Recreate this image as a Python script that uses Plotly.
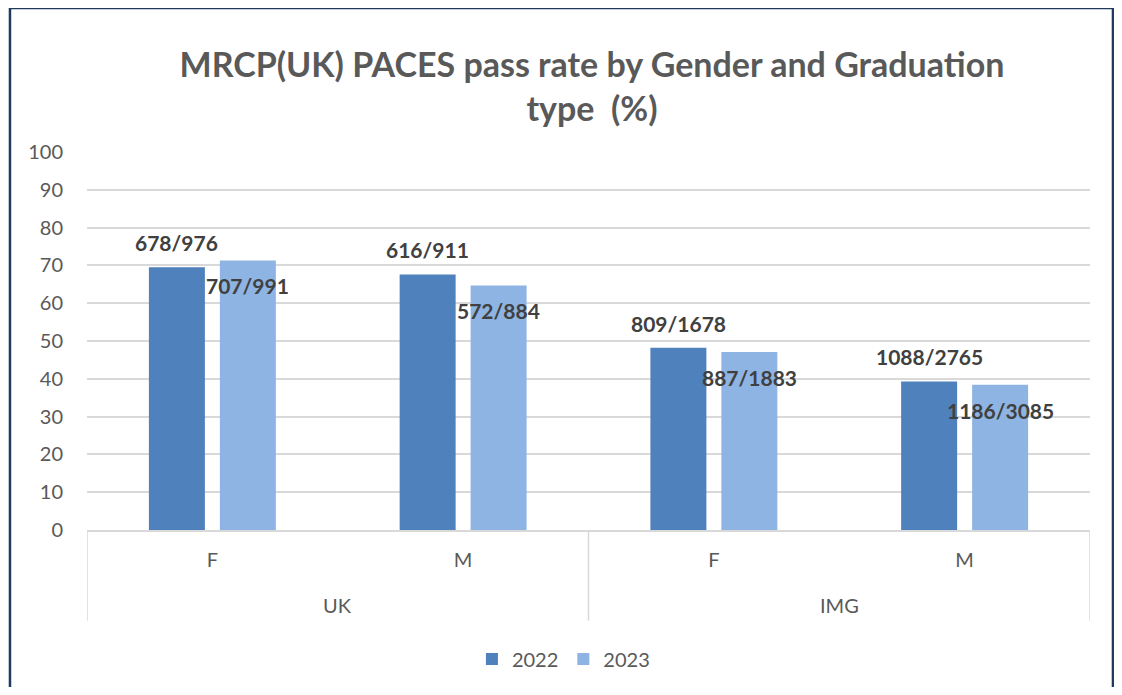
import plotly.graph_objects as go

# ---- data ----
groups = ["UK", "UK", "IMG", "IMG"]
genders = ["F", "M", "F", "M"]
years = ["2022", "2023"]
passed_2022 = [678, 616, 809, 1088]
total_2022 = [976, 911, 1678, 2765]
passed_2023 = [707, 572, 887, 1186]
total_2023 = [991, 884, 1883, 3085]
rate_2022 = [69.5, 67.6, 48.2, 39.3]
rate_2023 = [71.3, 64.7, 47.1, 38.4]
y_ticks = [0, 10, 20, 30, 40, 50, 60, 70, 80, 90, 100]

# ---- style ----
c2022 = "#4F81BD"
c2023 = "#8EB4E3"
txt = "#595959"
lbl = "#404040"
grid = "#D9D9D9"
frame = "#1f3a5c"
font_family = "Lato, 'Open Sans', sans-serif"
BARGAP = 0.434
GROUPGAP = 0.211

xpos = list(range(len(genders)))

fig = go.Figure()
fig.add_trace(go.Bar(x=xpos, y=rate_2022, name=years[0], marker=dict(color=c2022, line=dict(width=0))))
fig.add_trace(go.Bar(x=xpos, y=rate_2023, name=years[1], marker=dict(color=c2023, line=dict(width=0))))

slot = (1 - BARGAP) / 2
annotations = []
for i in xpos:
    annotations.append(dict(
        x=i - slot / 2, y=rate_2022[i], xref="x", yref="y",
        text=f"<b>{passed_2022[i]}/{total_2022[i]}</b>", showarrow=False,
        yanchor="bottom", yshift=10, font=dict(size=21, color=lbl, family=font_family)))
    annotations.append(dict(
        x=i + slot / 2, y=rate_2023[i], xref="x", yref="y",
        text=f"<b>{passed_2023[i]}/{total_2023[i]}</b>", showarrow=False,
        yanchor="top", yshift=-11, font=dict(size=21, color=lbl, family=font_family)))

# group labels (UK / IMG)
seen = []
for i, g in enumerate(groups):
    if g not in seen:
        seen.append(g)
        idx = [j for j, gg in enumerate(groups) if gg == g]
        annotations.append(dict(
            x=sum(idx) / len(idx), y=-0.199, xref="x", yref="paper",
            text=g, showarrow=False, yanchor="middle",
            font=dict(size=20, color=txt, family=font_family)))

shapes = []
# dividers at group edges
bounds = [-0.5]
for i in range(1, len(groups)):
    if groups[i] != groups[i - 1]:
        bounds.append(i - 0.5)
bounds.append(len(groups) - 0.5)
for b in bounds:
    shapes.append(dict(type="line", xref="x", yref="paper", x0=b, x1=b, y0=0, y1=-0.24,
                       line=dict(color=grid, width=1.5)))
# outer frame (left, top, right edges; bottom edge lies outside the view)
FL, FR, FT, FB = -0.0768, 1.0229, 1.381, -0.6
for (x0, y0, x1, y1) in [(FL, FB, FL, FT), (FL, FT, FR, FT), (FR, FT, FR, FB)]:
    shapes.append(dict(type="line", xref="paper", yref="paper", x0=x0, y0=y0, x1=x1, y1=y1,
                       line=dict(color=frame, width=2.5), layer="above"))

fig.update_layout(
    width=1106, height=679,
    margin=dict(l=79, r=24, t=144, b=157, autoexpand=False),
    paper_bgcolor="white", plot_bgcolor="white",
    barmode="group", bargap=BARGAP, bargroupgap=GROUPGAP,
    font=dict(family=font_family, color=txt, size=20),
    title=dict(text="<b>MRCP(UK) PACES pass rate by Gender and Graduation<br>type \u00a0(%)</b>",
               x=0.528, xanchor="center", xref="container", y=0.899, yanchor="top", yref="container",
               font=dict(size=34, color=txt, family=font_family)),
    xaxis=dict(range=[-0.5, len(genders) - 0.5], tickvals=xpos, ticktext=genders, showgrid=False,
               showline=True, linecolor=grid, linewidth=1.5, ticks="", zeroline=False,
               tickfont=dict(size=20, color=txt), ticklabelstandoff=11),
    yaxis=dict(range=[0, 100], tickvals=y_ticks, showgrid=True, gridcolor=grid, gridwidth=1.5,
               zeroline=False, showline=False, ticks="", tickfont=dict(size=20, color=txt),
               ticklabelstandoff=23),
    legend=dict(orientation="h", x=0.475, xanchor="center", y=-0.341, yanchor="middle",
                font=dict(size=20, color=txt), itemwidth=30, traceorder="normal"),
    annotations=annotations, shapes=shapes,
    showlegend=True,
)

fig.write_html("out.html")
